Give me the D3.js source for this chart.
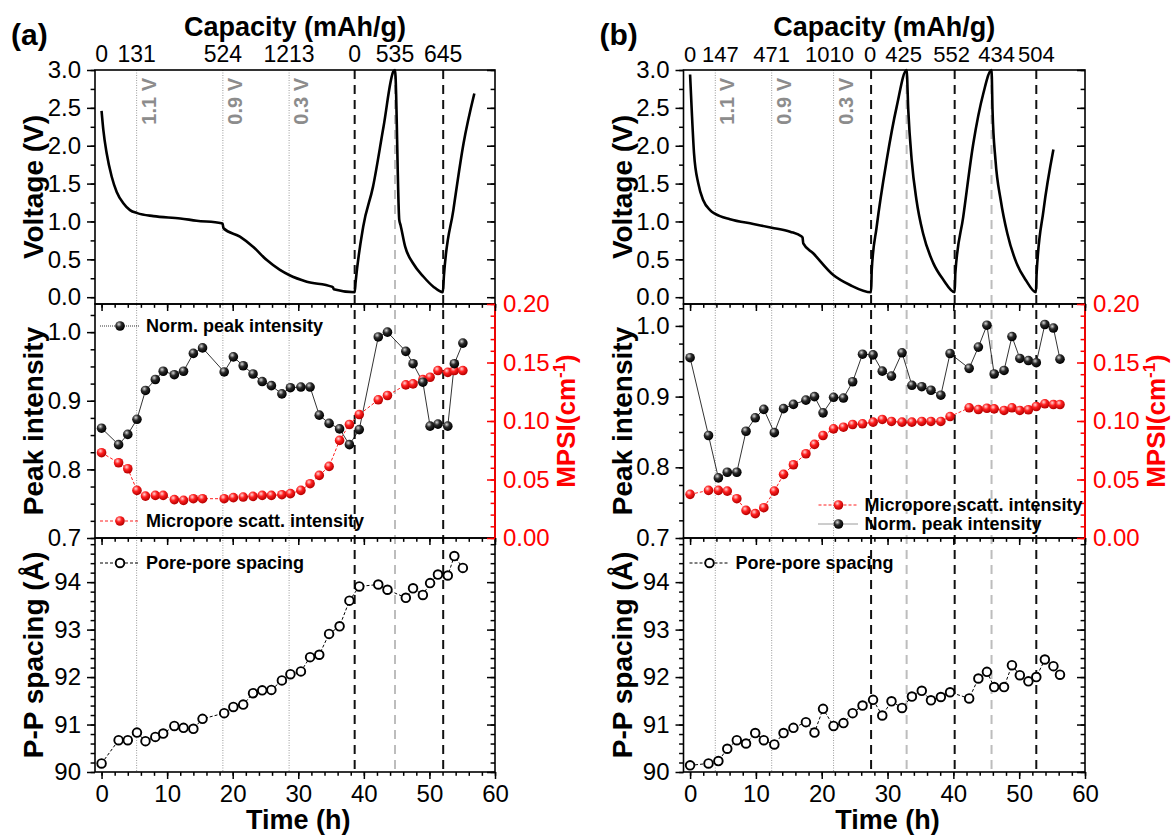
<!DOCTYPE html>
<html>
<head>
<meta charset="utf-8">
<script src="https://cdn.jsdelivr.net/npm/d3@7"></script>
<style>
  body { margin: 0; background: #fff; }
  text { font-family: "Liberation Sans", Arial, sans-serif; }
</style>
</head>
<body>
<svg id="chart" width="1173" height="836"></svg>
<script>
// ---- panel (a) ----
const timeA = [0, 2.6, 4.0, 5.4, 6.7, 8.2, 9.4, 11.1, 12.5, 14.0, 15.4, 18.7, 20.1, 21.6, 23.1, 24.5, 25.9, 27.5,
  28.8, 30.4, 31.8, 33.2, 34.7, 36.3, 37.8, 39.3, 42.2, 43.6, 46.4, 47.5, 49.0, 50.1, 51.3, 52.8, 53.8, 55.1];
const peakA = [0.860, 0.836, 0.851, 0.873, 0.915, 0.931, 0.943, 0.938, 0.943, 0.969, 0.977, 0.942, 0.964, 0.951,
  0.939, 0.928, 0.922, 0.910, 0.919, 0.920, 0.920, 0.879, 0.867, 0.859, 0.836, 0.858, 0.993, 1.000, 0.972, 0.954,
  0.927, 0.863, 0.866, 0.863, 0.954, 0.984];
const mpsiA = [0.0729, 0.0643, 0.0592, 0.0407, 0.0358, 0.0364, 0.0364, 0.0328, 0.0322, 0.0336, 0.0336, 0.0336,
  0.0345, 0.0350, 0.0356, 0.0364, 0.0364, 0.0370, 0.0379, 0.0407, 0.0464, 0.0535, 0.0612, 0.0834, 0.0970, 0.1055,
  0.1181, 0.1218, 0.1309, 0.1317, 0.1354, 0.1374, 0.1431, 0.1416, 0.1431, 0.1431];
const spacingA = [90.18, 90.67, 90.67, 90.83, 90.65, 90.74, 90.81, 90.97, 90.93, 90.91, 91.12, 91.24, 91.37, 91.42,
  91.66, 91.72, 91.73, 91.93, 92.06, 92.12, 92.42, 92.47, 92.91, 93.07, 93.61, 93.91, 93.95, 93.84, 93.67, 93.87,
  93.73, 93.98, 94.16, 94.14, 94.55, 94.30];
const voltTimeA = [0, 0.27, 0.78, 1.55, 2.31, 3.32, 4.34, 5.45, 7.9, 12.0, 14.5, 18.3, 18.45, 18.6, 21.1, 23.1,
  25.2, 27.2, 28.6, 31.3, 35.1, 35.3, 35.4, 38.6, 38.75, 39.9, 41.4, 43.0, 44.5, 44.75, 45.4, 45.6, 46.3, 47.5,
  49.1, 50.6, 52.05, 52.2, 53.65, 55.2, 56.85];
const voltA = [2.46, 2.21, 1.90, 1.59, 1.39, 1.24, 1.15, 1.11, 1.07, 1.04, 1.01, 0.976, 0.97, 0.91, 0.80, 0.667,
  0.49, 0.36, 0.293, 0.205, 0.139, 0.13, 0.104, 0.065, 0.205, 0.93, 1.46, 2.25, 2.98, 3.0, 1.02, 0.95, 0.667,
  0.448, 0.27, 0.139, 0.065, 0.27, 1.15, 2.03, 2.69];
const capLabelsA = ["0", "131", "524", "1213", "0", "535", "645"];
const capTimesA = [0, 5.35, 18.5, 28.6, 38.6, 44.75, 52.1];
const dottedA = [5.35, 18.5, 28.6];
const blackDashA = [38.6, 52.1];
const greyDashA = [44.75];

// ---- panel (b) ----
const timeB = [0, 2.8, 4.3, 5.65, 7.1, 8.5, 9.9, 11.2, 12.8, 14.2, 15.7, 17.6, 18.9, 20.2, 21.8, 23.3, 24.7, 26.2,
  27.8, 29.2, 30.6, 32.2, 33.7, 35.2, 36.6, 38.1, 39.5, 42.4, 43.8, 45.1, 46.2, 47.7, 48.9, 50.1, 51.4, 52.6, 53.9,
  55.2, 56.2];
const peakB = [0.955, 0.845, 0.785, 0.793, 0.793, 0.851, 0.870, 0.882, 0.849, 0.883, 0.889, 0.895, 0.900, 0.877,
  0.899, 0.898, 0.921, 0.960, 0.959, 0.936, 0.929, 0.962, 0.916, 0.914, 0.909, 0.902, 0.961, 0.940, 0.970, 1.001,
  0.932, 0.937, 0.985, 0.954, 0.951, 0.948, 1.002, 0.997, 0.953];
const mpsiB = [0.0373, 0.0407, 0.0407, 0.0401, 0.0336, 0.0236, 0.0208, 0.0259, 0.0401, 0.0544, 0.0626, 0.0720,
  0.0800, 0.0876, 0.0933, 0.0947, 0.0970, 0.0976, 0.0990, 0.1013, 0.0996, 0.0990, 0.0990, 0.0996, 0.0996, 0.0996,
  0.1038, 0.1113, 0.1098, 0.1109, 0.1104, 0.1090, 0.1113, 0.1090, 0.1096, 0.1124, 0.1147, 0.1141, 0.1141];
const spacingB = [90.14, 90.18, 90.23, 90.49, 90.67, 90.60, 90.82, 90.67, 90.58, 90.82, 90.93, 91.05, 90.83, 91.33,
  90.97, 91.03, 91.24, 91.40, 91.52, 91.19, 91.49, 91.35, 91.59, 91.71, 91.51, 91.58, 91.68, 91.55, 91.97, 92.11,
  91.79, 91.79, 92.25, 92.04, 91.91, 92.00, 92.37, 92.23, 92.05];
const voltTimeB = [0, 0.25, 0.6, 1.25, 2.0, 3.03, 3.83, 6.07, 9.6, 12.4, 15.2, 16.96, 17.08, 17.2, 18.7, 21.76,
  24.3, 27.5, 27.6, 28.35, 29.87, 31.4, 32.9, 33.15, 33.67, 34.4, 35.4, 36.95, 38.5, 40.2, 40.3, 41.5, 43.03,
  44.55, 45.8, 45.95, 46.4, 47.2, 48.2, 49.6, 51.0, 52.55, 52.65, 53.7, 55.2];
const voltB = [2.94, 2.47, 1.90, 1.50, 1.28, 1.15, 1.10, 1.03, 0.967, 0.918, 0.865, 0.80, 0.79, 0.71, 0.58, 0.293,
  0.161, 0.065, 0.36, 0.93, 1.81, 2.52, 3.0, 2.47, 1.81, 1.28, 0.84, 0.45, 0.227, 0.065, 0.316, 1.06, 2.03, 2.69,
  3.0, 2.47, 1.81, 1.28, 0.84, 0.45, 0.227, 0.065, 0.316, 1.15, 1.95];
const capLabelsB = ["0", "147", "471", "1010", "0", "425", "552", "434", "504"];
const capTimesB = [0, 3.83, 12.4, 21.8, 27.5, 32.9, 40.2, 45.8, 52.6];
const dottedB = [3.83, 12.4, 21.8];
const blackDashB = [27.5, 40.2, 52.6];
const greyDashB = [32.9, 45.8];

// ---- shared ----
const markerLabels = ["1.1 V", "0.9 V", "0.3 V"];
const timeTicks = [0, 10, 20, 30, 40, 50, 60];
const voltTicks = [0, 0.5, 1.0, 1.5, 2.0, 2.5, 3.0];
const peakTicks = [0.7, 0.8, 0.9, 1.0];
const mpsiTicks = [0, 0.05, 0.10, 0.15, 0.20];
const spacingTicks = [90, 91, 92, 93, 94];

const rowTop = [70, 304], rowMid = [304, 538], rowBot = [538, 772];
const rows = [rowTop, rowMid, rowBot];
const tickFont = 24;

const svg = d3.select("#chart");
const defs = svg.append("defs");

function ball(id, c0, c1, c2) {
    let grad = defs.append("radialGradient").attr("id", id)
        .attr("cx", "38%").attr("cy", "32%").attr("r", "65%");
    grad.append("stop").attr("offset", "0%").attr("stop-color", c0);
    grad.append("stop").attr("offset", "45%").attr("stop-color", c1);
    grad.append("stop").attr("offset", "100%").attr("stop-color", c2);
}
ball("ballK", "#d8d8d8", "#2a2a2a", "#000");
ball("ballR", "#ffd6d6", "#ff2020", "#b80000");

function axisGroup(g, axis, scale, major, minor, tx, ty, size, fmt, color) {
    g.append("g").attr("transform", `translate(${tx},${ty})`)
        .call(axis(scale).tickValues(minor).tickSize(size * 0.55).tickFormat(""))
        .call(a => a.select(".domain").remove())
        .selectAll("line").attr("stroke", color).attr("stroke-width", 1.5);
    let ax = g.append("g").attr("transform", `translate(${tx},${ty})`)
        .call(axis(scale).tickValues(major).tickSize(size).tickPadding(fmt ? 6 : 0).tickFormat(fmt || ""))
        .call(a => a.select(".domain").remove());
    ax.selectAll("line").attr("stroke", color).attr("stroke-width", 1.5);
    ax.selectAll("text").attr("fill", color).attr("font-size", tickFont)
        .attr("font-family", '"Liberation Sans", Arial, sans-serif');
    return ax;
}

function minorRange(a, b, step) {
    return d3.range(Math.round((b - a) / step) + 1).map(i => +(a + i * step).toFixed(4));
}

function drawPanel(p) {
    const g = svg.append("g");
    const x = d3.scaleLinear().domain([-1, 60]).range([p.left, p.right]);
    const yV = d3.scaleLinear().domain([-0.09, 3.0]).range([rowTop[1], rowTop[0]]);
    const yP = d3.scaleLinear().domain(p.peakDomain).range([rowMid[1], rowMid[0]]);
    const yM = d3.scaleLinear().domain([0, 0.2]).range([rowMid[1], rowMid[0]]);
    const yS = d3.scaleLinear().domain([90, 94.93]).range([rowBot[1], rowBot[0]]);
    const midX = (p.left + p.right) / 2;

    // vertical marker lines
    g.selectAll(".dot").data(p.dotted).enter().append("line")
        .attr("x1", d => x(d)).attr("x2", d => x(d)).attr("y1", rowTop[0]).attr("y2", rowBot[1])
        .attr("stroke", "#9a9a9a").attr("stroke-width", 1).attr("stroke-dasharray", "1,1.5");
    g.selectAll(".gdash").data(p.greyDash).enter().append("line")
        .attr("x1", d => x(d)).attr("x2", d => x(d)).attr("y1", rowTop[0]).attr("y2", rowBot[1])
        .attr("stroke", "#bdbdbd").attr("stroke-width", 2).attr("stroke-dasharray", "9,6");
    g.selectAll(".kdash").data(p.blackDash).enter().append("line")
        .attr("x1", d => x(d)).attr("x2", d => x(d)).attr("y1", rowTop[0]).attr("y2", rowBot[1])
        .attr("stroke", "#111").attr("stroke-width", 2).attr("stroke-dasharray", "9,6");

    g.selectAll(".vlab").data(p.dotted).enter().append("text")
        .attr("transform", d => `translate(${x(d) + 19},78) rotate(-90)`)
        .attr("text-anchor", "end").attr("font-size", 20).attr("font-weight", "bold")
        .attr("fill", "#8c8c8c")
        .text((d, i) => markerLabels[i]);

    // voltage curve
    g.append("path")
        .datum(p.voltTime.map((t, i) => [t, p.volt[i]]))
        .attr("fill", "none").attr("stroke", "#000").attr("stroke-width", 2.6)
        .attr("stroke-linejoin", "round")
        .attr("d", d3.line().x(d => x(d[0])).y(d => yV(d[1])).curve(d3.curveMonotoneX));

    // middle panel
    const peakPts = p.time.map((t, i) => [t, p.peak[i]]);
    const mpsiPts = p.time.map((t, i) => [t, p.mpsi[i]]);
    g.append("path").datum(mpsiPts)
        .attr("fill", "none").attr("stroke", "#ff2020").attr("stroke-width", 1).attr("stroke-dasharray", "3,2")
        .attr("d", d3.line().x(d => x(d[0])).y(d => yM(d[1])));
    g.append("path").datum(peakPts)
        .attr("fill", "none").attr("stroke", "#000").attr("stroke-width", 0.8)
        .attr("d", d3.line().x(d => x(d[0])).y(d => yP(d[1])));
    g.selectAll(".rb").data(mpsiPts).enter().append("circle")
        .attr("cx", d => x(d[0])).attr("cy", d => yM(d[1])).attr("r", 4.8).attr("fill", "url(#ballR)");
    g.selectAll(".kb").data(peakPts).enter().append("circle")
        .attr("cx", d => x(d[0])).attr("cy", d => yP(d[1])).attr("r", 4.8).attr("fill", "url(#ballK)");

    // bottom panel
    const spPts = p.time.map((t, i) => [t, p.spacing[i]]);
    g.append("path").datum(spPts)
        .attr("fill", "none").attr("stroke", "#000").attr("stroke-width", 1).attr("stroke-dasharray", "3,2")
        .attr("d", d3.line().x(d => x(d[0])).y(d => yS(d[1])));
    g.selectAll(".ob").data(spPts).enter().append("circle")
        .attr("cx", d => x(d[0])).attr("cy", d => yS(d[1])).attr("r", 4.3)
        .attr("fill", "#fff").attr("stroke", "#000").attr("stroke-width", 1.9);

    // frames
    rows.forEach(r => {
        g.append("rect").attr("x", p.left).attr("y", r[0]).attr("width", p.right - p.left).attr("height", r[1] - r[0])
            .attr("fill", "none").attr("stroke", "#000").attr("stroke-width", 1.6);
    });
    g.append("line").attr("x1", p.right).attr("x2", p.right).attr("y1", rowMid[0]).attr("y2", rowMid[1])
        .attr("stroke", "#ff0000").attr("stroke-width", 1.8);

    // axes
    const minorT = minorRange(0, 60, 2);
    rows.forEach((r, i) => {
        axisGroup(g, d3.axisBottom, x, timeTicks, minorT, 0, r[1], 7,
            i === 2 ? d3.format("d") : null, "#000");
    });
    axisGroup(g, d3.axisLeft, yV, voltTicks, minorRange(0, 3, 0.25), p.left, 0, 8, d3.format(".1f"), "#000");
    axisGroup(g, d3.axisLeft, yV, voltTicks, minorRange(0, 3, 0.25), p.right, 0, 8, null, "#000");
    axisGroup(g, d3.axisLeft, yP, peakTicks, minorRange(0.7, 1.025, 0.025), p.left, 0, 8, d3.format(".1f"), "#000");
    axisGroup(g, d3.axisRight, yM, mpsiTicks, minorRange(0, 0.2, 0.01), p.right, 0, -8, d3.format(".2f"), "#ff0000")
        .selectAll("text").attr("x", 8);
    axisGroup(g, d3.axisLeft, yS, spacingTicks, minorRange(90, 94.8, 0.2), p.left, 0, 8, d3.format("d"), "#000");
    axisGroup(g, d3.axisLeft, yS, spacingTicks, minorRange(90, 94.8, 0.2), p.right, 0, 8, null, "#000");

    // capacity labels on top
    g.selectAll(".cap").data(p.capTimes).enter().append("text")
        .attr("x", (d, i) => x(d) + (p.capShift ? p.capShift[i] : 0)).attr("y", 62)
        .attr("text-anchor", "middle").attr("font-size", p.capFont)
        .text((d, i) => p.capLabels[i]);
    g.append("text").attr("x", midX).attr("y", 36).attr("text-anchor", "middle")
        .attr("font-size", 27).attr("font-weight", "bold").text("Capacity (mAh/g)");
    g.append("text").attr("x", p.left - 84).attr("y", 45)
        .attr("font-size", 30).attr("font-weight", "bold").text(p.tag);
    g.append("text").attr("x", x(30)).attr("y", 829).attr("text-anchor", "middle")
        .attr("font-size", 27).attr("font-weight", "bold").text("Time (h)");

    // y titles
    const ytitle = (txt, r, xx, color, fs) => g.append("text")
        .attr("transform", `translate(${xx},${(r[0] + r[1]) / 2}) rotate(-90)`)
        .attr("text-anchor", "middle").attr("font-size", fs).attr("font-weight", "bold")
        .attr("fill", color).text(txt);
    ytitle("Voltage (V)", rowTop, p.left - 52, "#000", 28);
    ytitle("Peak intensity", rowMid, p.left - 52, "#000", 28);
    ytitle("P-P spacing (Å)", rowBot, p.left - 52, "#000", 28);
    let mp = ytitle("MPSI(cm", rowMid, p.right + 80, "#ff0000", 26);
    mp.append("tspan").attr("dy", -10).attr("font-size", 17).text("-1");
    mp.append("tspan").attr("dy", 10).text(")");

    // legends
    p.legends.forEach(l => {
        let ly = l.y, lx = p.left + l.dx;
        if (l.kind === "open") {
            g.append("line").attr("x1", lx - 20).attr("x2", lx + 20).attr("y1", ly).attr("y2", ly)
                .attr("stroke", "#000").attr("stroke-dasharray", "3,2");
            g.append("circle").attr("cx", lx).attr("cy", ly).attr("r", 4.3)
                .attr("fill", "#fff").attr("stroke", "#000").attr("stroke-width", 1.9);
        } else {
            let red = l.kind === "red";
            g.append("line").attr("x1", lx - 20).attr("x2", lx + 20).attr("y1", ly).attr("y2", ly)
                .attr("stroke", red ? "#ff2020" : "#000").attr("stroke-width", red ? 1 : 0.8)
                .attr("stroke-dasharray", red ? "3,2" : "1,1");
            g.append("circle").attr("cx", lx).attr("cy", ly).attr("r", 4.8)
                .attr("fill", red ? "url(#ballR)" : "url(#ballK)");
        }
        g.append("text").attr("x", lx + 26).attr("y", ly + 6).attr("font-size", 18).attr("font-weight", "bold")
            .text(l.text);
    });
}

drawPanel({
    tag: "(a)", left: 95, right: 495, peakDomain: [0.7, 1.041], capFont: 23,
    time: timeA, peak: peakA, mpsi: mpsiA, spacing: spacingA, voltTime: voltTimeA, volt: voltA,
    capLabels: capLabelsA, capTimes: capTimesA, dotted: dottedA, blackDash: blackDashA, greyDash: greyDashA,
    legends: [
        { kind: "black", dx: 25, y: 326, text: "Norm. peak intensity" },
        { kind: "red", dx: 25, y: 521, text: "Micropore scatt. intensity" },
        { kind: "open", dx: 25, y: 563, text: "Pore-pore spacing" }
    ]
});

drawPanel({
    tag: "(b)", left: 683.5, right: 1085, peakDomain: [0.7, 1.031], capFont: 22,
    capShift: [0, 5, 0, -4, -1, -3, -3, 5, 0],
    time: timeB, peak: peakB, mpsi: mpsiB, spacing: spacingB, voltTime: voltTimeB, volt: voltB,
    capLabels: capLabelsB, capTimes: capTimesB, dotted: dottedB, blackDash: blackDashB, greyDash: greyDashB,
    legends: [
        { kind: "red", dx: 155, y: 505, text: "Micropore scatt. intensity" },
        { kind: "black", dx: 155, y: 524, text: "Norm. peak intensity" },
        { kind: "open", dx: 26, y: 563, text: "Pore-pore spacing" }
    ]
});
</script>
</body>
</html>
